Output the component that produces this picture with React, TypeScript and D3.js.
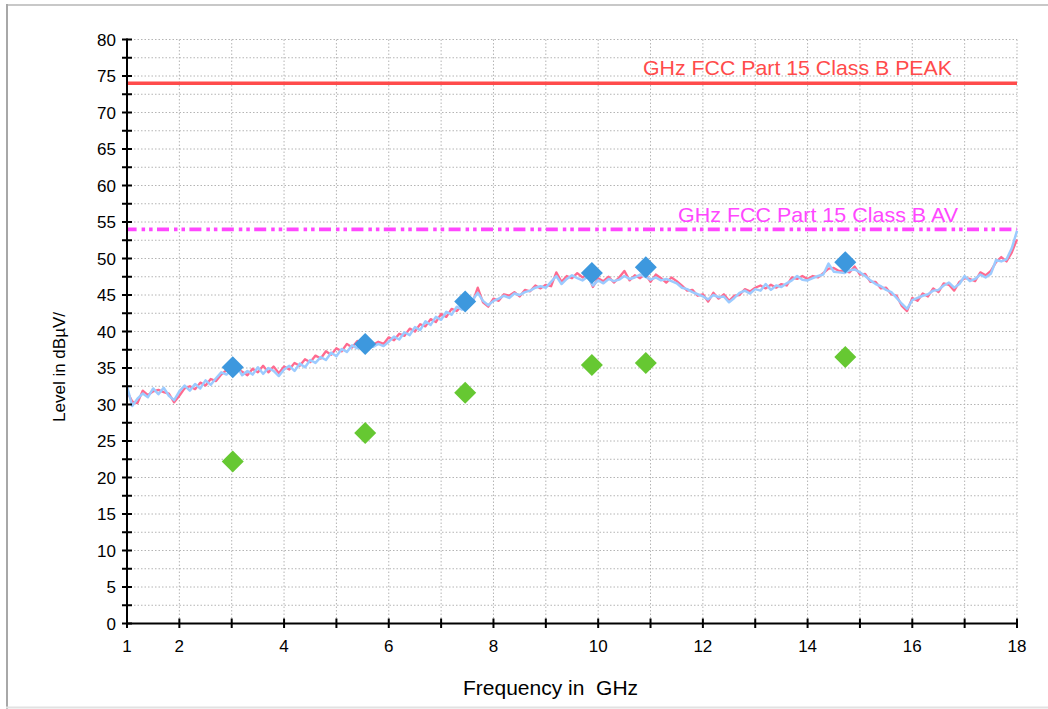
import React from "react";
import * as d3 from "d3";

const peakLimit = 74;
const avLimit = 54;
const peakLabel = "GHz FCC Part 15 Class B PEAK";
const avLabel = "GHz FCC Part 15 Class B AV";

const xTickLabels = [1, 2, 4, 6, 8, 10, 12, 14, 16, 18];
const yTickLabels = [0, 5, 10, 15, 20, 25, 30, 35, 40, 45, 50, 55, 60, 65, 70, 75, 80];

// trace sampling frequencies (GHz), 1.0 .. 18.0 step 0.1
const freqs = d3.range(0, 171).map((i) => 1 + i / 10);

// Peak detector trace (blue)
const blueTrace = [
  32.5, 29.8, 30.8, 31.5, 31.0, 32.2, 31.4, 32.3, 31.2, 30.6,
  31.8, 32.6, 31.9, 32.8, 32.2, 33.3, 32.7, 33.6, 34.4, 34.1,
  34.8, 35.2, 34.0, 34.6, 34.1, 35.1, 34.2, 35.0, 34.6, 33.9,
  34.8, 35.3, 34.6, 35.6, 35.1, 36.1, 35.7, 36.5, 36.1, 37.1,
  36.6, 37.6, 37.2, 38.1, 37.7, 38.6, 38.1, 37.9, 38.3, 38.0,
  38.6, 39.3, 38.9, 39.9, 39.5, 40.6, 40.2, 41.4, 40.9, 42.0,
  41.6, 42.7, 42.3, 43.4, 43.0, 44.0, 44.3, 45.3, 44.2, 43.6,
  44.2, 44.5, 44.9, 44.6, 45.2, 45.0, 45.4, 45.6, 46.0, 46.2,
  46.0, 46.8, 47.6, 46.5, 47.2, 47.7, 47.3, 47.0, 47.5, 46.3,
  47.0, 46.6, 47.2, 46.9, 47.1, 47.6, 47.2, 47.4, 47.8, 47.5,
  47.1, 47.4, 47.0, 47.2, 46.9, 46.6, 46.0, 45.8, 45.4, 45.1,
  44.8, 44.4, 45.0, 44.7, 44.8, 44.0, 44.6, 45.3, 45.6, 45.2,
  45.8, 45.6, 46.5, 45.7, 46.3, 46.1, 46.6, 47.0, 47.6, 47.1,
  47.0, 47.3, 47.6, 47.8, 49.3, 48.2, 48.1, 48.0, 48.4, 48.5,
  48.1, 47.6, 47.0, 46.5, 46.2, 45.7, 45.4, 44.6, 43.8, 43.1,
  44.3, 44.6, 44.9, 45.1, 45.6, 45.7, 46.3, 46.7, 46.0, 46.5,
  47.6, 46.9, 47.2, 47.8, 47.4, 47.9, 49.8, 49.6, 49.9, 51.4,
  53.8,
];

// second trace (pink)
const pinkTrace = [
  31.8, 30.4, 30.2, 31.9, 31.3, 31.8, 32.0, 31.7, 31.5, 30.3,
  31.2, 32.2, 32.5, 32.1, 33.0, 32.6, 33.5, 33.2, 34.1, 34.7,
  34.3, 34.9, 34.5, 34.0, 34.9, 34.4, 35.3, 34.4, 35.2, 34.3,
  35.2, 34.8, 35.7, 35.3, 36.2, 35.8, 36.7, 36.3, 37.3, 36.8,
  37.7, 37.3, 38.3, 37.8, 38.7, 38.2, 38.6, 38.2, 38.6, 38.3,
  39.2, 38.8, 39.7, 39.4, 40.4, 40.0, 41.0, 40.7, 41.7, 41.3,
  42.4, 42.0, 43.1, 42.8, 43.6, 43.9, 44.0, 46.0, 44.0, 43.4,
  44.5, 44.2, 45.1, 44.9, 45.4, 44.8, 45.7, 45.5, 46.3, 45.9,
  46.4, 46.2, 48.1, 46.8, 47.6, 47.3, 48.0, 47.4, 47.8, 46.1,
  47.3, 46.9, 47.5, 46.7, 47.4, 48.3, 47.0, 47.7, 47.3, 47.9,
  46.8, 47.8, 47.3, 46.7, 47.4, 46.9, 46.3, 45.6, 45.7, 44.9,
  45.1, 44.1, 45.3, 44.5, 45.1, 44.2, 44.9, 45.0, 45.8, 45.5,
  46.0, 46.3, 45.9, 46.4, 46.0, 46.5, 46.3, 47.4, 47.2, 47.6,
  47.2, 47.6, 47.4, 48.0, 48.6, 48.7, 48.3, 48.3, 48.1, 48.9,
  47.8, 47.9, 46.8, 46.8, 45.9, 46.0, 45.1, 44.9, 43.5, 42.8,
  44.6, 44.2, 45.2, 44.8, 45.9, 45.4, 46.6, 46.4, 45.6, 46.8,
  47.3, 47.2, 46.9, 48.1, 47.7, 48.3, 49.5, 50.2, 49.6, 50.8,
  52.6,
];

// final measurement points
const markerFreqs = [3.02, 5.55, 7.46, 9.88, 10.91, 14.72];
const peakValues = [35.1, 38.3, 44.1, 48.0, 48.8, 49.5];
const avgValues = [22.2, 26.1, 31.6, 35.4, 35.7, 36.5];

const W = 1048;
const H = 709;
const FONT = "'Liberation Sans', Arial, Helvetica, sans-serif";

export default function App() {
  const x = d3.scaleLinear().domain([1, 18]).range([127, 1017]);
  const y = d3.scaleLinear().domain([0, 80]).range([623.5, 39.5]);

  const gridX = d3.range(1, 19);
  const gridY = d3.range(0, 81, 2.5);

  const line = d3
    .line<number>()
    .x((_, i) => x(freqs[i]))
    .y((d) => y(d));

  const diamond = (cx: number, cy: number, r: number) =>
    `M${cx},${cy - r}L${cx + r},${cy}L${cx},${cy + r}L${cx - r},${cy}Z`;

  return (
    <svg
      width={W}
      height={H}
      style={{ position: "absolute", left: 0, top: 0, background: "#fff" }}
      fontFamily={FONT}
    >
      <rect x={0} y={0} width={W} height={H} fill="#fff" />
      {/* frame */}
      <line x1={6} y1={5} x2={W} y2={5} stroke="#c8c8c8" strokeWidth={2} />
      <line x1={7} y1={4} x2={7} y2={H} stroke="#a8a8a8" strokeWidth={2} />
      <line x1={6} y1={707.5} x2={W} y2={707.5} stroke="#e2e2e2" strokeWidth={2} />

      {/* grid */}
      <g stroke="#b4b4b4" strokeWidth={1} strokeDasharray="1.5,2">
        {gridX.map((g) => (
          <line key={"gx" + g} x1={x(g)} x2={x(g)} y1={y(80)} y2={y(0)} />
        ))}
        {gridY.map((g) => (
          <line key={"gy" + g} x1={x(1)} x2={x(18)} y1={y(g)} y2={y(g)} />
        ))}
      </g>

      {/* limit lines */}
      <line
        x1={x(1)}
        x2={x(18)}
        y1={y(peakLimit)}
        y2={y(peakLimit)}
        stroke="#ff4b4b"
        strokeWidth={3.5}
      />
      <line
        x1={x(1)}
        x2={x(18)}
        y1={y(avLimit)}
        y2={y(avLimit)}
        stroke="#ff47ff"
        strokeWidth={3.8}
        strokeDasharray="12,5,3.5,4,3.5,4.4"
        strokeDashoffset={2.4}
      />
      <text
        x={643}
        y={75}
        fontSize={21}
        fill="#ff4b4b"
        textLength={309}
        lengthAdjust="spacingAndGlyphs"
      >
        {peakLabel}
      </text>
      <text
        x={678}
        y={221.5}
        fontSize={21}
        fill="#ff47ff"
        textLength={280}
        lengthAdjust="spacingAndGlyphs"
      >
        {avLabel}
      </text>

      {/* traces */}
      <path d={line(pinkTrace) || ""} fill="none" stroke="#ff6a8f" strokeWidth={2.3} strokeLinejoin="round" />
      <path d={line(blueTrace) || ""} fill="none" stroke="#9ccbff" strokeWidth={2.5} strokeLinejoin="round" />

      {/* markers */}
      {markerFreqs.map((f, i) => (
        <path key={"p" + i} d={diamond(x(f), y(peakValues[i]), 11)} fill="#3d98de" />
      ))}
      {markerFreqs.map((f, i) => (
        <path key={"a" + i} d={diamond(x(f), y(avgValues[i]), 11)} fill="#66c832" />
      ))}

      {/* axes */}
      <g stroke="#000" strokeWidth={2}>
        <line x1={x(1)} x2={x(1)} y1={y(80) - 1} y2={y(0) + 1} />
        <line x1={x(1) - 1} x2={x(18) + 1} y1={y(0)} y2={y(0)} />
        {gridY.map((g) => (
          <line key={"ty" + g} x1={x(1) - 5} x2={x(1) + 5} y1={y(g)} y2={y(g)} />
        ))}
        {gridX.map((g) => (
          <line key={"tx" + g} x1={x(g)} x2={x(g)} y1={y(0) - 5} y2={y(0) + 4.5} />
        ))}
      </g>
      <g fontSize={17} fill="#000">
        {yTickLabels.map((v) => (
          <text key={"ly" + v} x={116} y={y(v)} dy="0.36em" textAnchor="end">
            {v}
          </text>
        ))}
        {xTickLabels.map((v) => (
          <text key={"lx" + v} x={x(v)} y={652} textAnchor="middle">
            {v}
          </text>
        ))}
      </g>

      {/* axis titles */}
      <text
        x={463}
        y={695}
        fontSize={21}
        fill="#000"
        style={{ whiteSpace: "pre" }}
      >
        {"Frequency in  GHz"}
      </text>
      <text
        transform="translate(64.5,367) rotate(-90)"
        textAnchor="middle"
        fontSize={17}
        fill="#000"
      >
        Level in dBµV/
      </text>
    </svg>
  );
}
